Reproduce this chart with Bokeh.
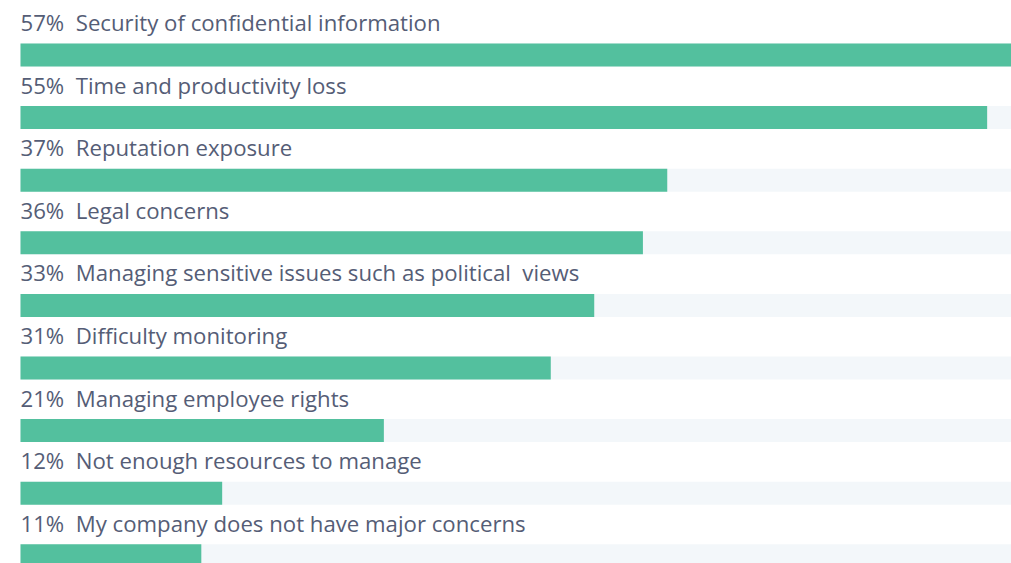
from bokeh.plotting import figure
from bokeh.models import Range1d, ColumnDataSource
from bokeh.core.properties import value
from bokeh.embed import file_html
from bokeh.resources import INLINE

pct_labels = ["57%", "55%", "37%", "36%", "33%", "31%", "21%", "12%", "11%"]
categories = [
    "Security of confidential information",
    "Time and productivity loss",
    "Reputation exposure",
    "Legal concerns",
    "Managing sensitive issues such as political  views",
    "Difficulty monitoring",
    "Managing employee rights",
    "Not enough resources to manage",
    "My company does not have major concerns",
]
values = [57.0, 55.6, 37.2, 35.8, 33.0, 30.5, 20.9, 11.6, 10.4]
max_value = 57.0

W, H = 1011, 563
rows = list(range(len(categories)))

NB = "\u00a0"
src = ColumnDataSource(dict(
    y=rows,
    v=values,
    full=[max_value] * len(rows),
    half=[x / 2 for x in values],
    fullhalf=[max_value / 2] * len(rows),
    txt=[p + NB + NB + c.replace(" ", NB) for p, c in zip(pct_labels, categories)],
    tx=[0] * len(rows),
))

left_px = 20
px_per_unit = (W - left_px) / max_value
x0 = -left_px / px_per_unit
row_px = 62.6
first_center = 54.5
top = -first_center / row_px
bottom = (H - first_center) / row_px

p = figure(width=W, height=H, output_backend="svg", toolbar_location=None,
           x_range=Range1d(x0, max_value), y_range=Range1d(bottom, top),
           min_border=0, min_border_left=0, min_border_right=0,
           min_border_top=0, min_border_bottom=0)
p.axis.visible = False
p.grid.visible = False
p.outline_line_color = None
p.background_fill_color = "white"
p.border_fill_color = "white"

bh = 23 / row_px
p.rect(x="fullhalf", y="y", width="full", height=bh, source=src,
       fill_color="#f3f7fa", line_color=None)
p.rect(x="half", y="y", width="v", height=bh, source=src,
       fill_color="#53c09e", line_color=None)
p.text(x="tx", y="y", text="txt", source=src, y_offset=-32.5,
       text_font=value("Open Sans"), text_font_size="22.2px",
       text_color="#555d76", text_baseline="alphabetic", text_align="left")

open("out.html", "w").write(file_html(p, INLINE))
